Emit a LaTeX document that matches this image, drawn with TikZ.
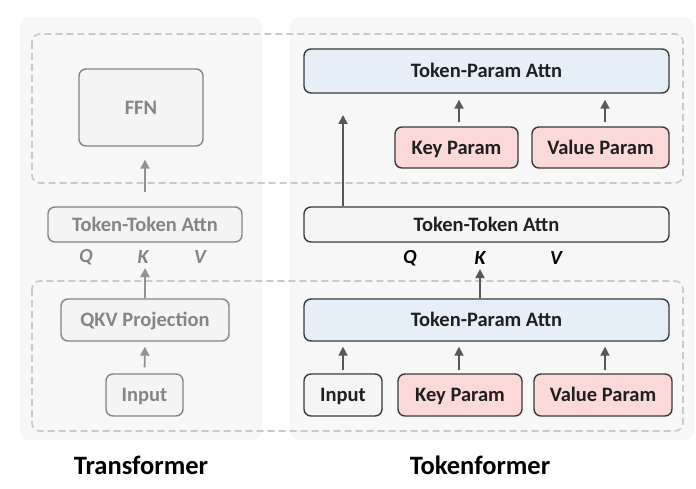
\documentclass[tikz,border=0pt]{standalone}
\usepackage{fontspec}
\setmainfont{Carlito}
\usetikzlibrary{arrows.meta}

\definecolor{panelgray}{HTML}{F7F7F7}
\definecolor{dashgray}{HTML}{C9C9C9}
\definecolor{fadegray}{HTML}{858585}
\definecolor{fadefill}{HTML}{F4F4F4}
\definecolor{darkline}{HTML}{3A3A3A}
\definecolor{paramblue}{HTML}{E6EFF8}
\definecolor{parampink}{HTML}{FAD9D8}
\definecolor{plainfill}{HTML}{F5F5F5}

\tikzstyle{panel} = [fill=panelgray,draw=none,rounded corners=10pt]
\tikzstyle{dashbox} = [draw=dashgray,line width=1.6pt,dash pattern=on 7pt off 4pt,rounded corners=8pt]
\tikzstyle{fadenode} = [draw=fadegray,fill=fadefill,line width=1.4pt,rounded corners=7pt,
  text=fadegray,font=\fontsize{20.5}{24}\selectfont\bfseries,inner sep=0pt,
  text height=15pt,text depth=1.5pt]
\tikzstyle{darknode} = [draw=darkline,fill=plainfill,line width=1.4pt,rounded corners=7pt,
  text=black!88,font=\fontsize{20.5}{24}\selectfont\bfseries,inner sep=0pt,
  text height=15pt,text depth=1.5pt]
\tikzstyle{qkvlabel} = [font=\fontsize{20}{24}\selectfont\bfseries\itshape]
\tikzstyle{fadearrow} = [draw=fadegray!90,line width=1.8pt,-{Triangle[length=9pt,width=9pt]}]
\tikzstyle{darkarrow} = [draw=darkline!85,line width=1.8pt,-{Triangle[length=9pt,width=9pt]}]
\tikzstyle{title} = [font=\fontsize{26.5}{30}\selectfont\bfseries]

\begin{document}
\begin{tikzpicture}[x=1pt,y=-1pt]
  \useasboundingbox (0,0) rectangle (696,489);
  \fill[white] (0,0) rectangle (696,489);

  % panels and layer frames
  \fill[panel] (20,17) rectangle (262,440);
  \fill[panel] (290,17) rectangle (694,440);
  \draw[dashbox] (32,34) rectangle (683,183);
  \draw[dashbox] (32,281) rectangle (683,431);

  % Transformer
  \node[fadenode,minimum width=124pt,minimum height=77pt] (ffn) at (141,107.5) {FFN};
  \node[fadenode,minimum width=194pt,minimum height=35pt] (ttaL) at (145,224.5) {Token-Token Attn};
  \node[qkvlabel,text=fadegray] (qL) at (86,257) {Q};
  \node[qkvlabel,text=fadegray] (kL) at (143,257) {K};
  \node[qkvlabel,text=fadegray] (vL) at (200,257) {V};
  \node[fadenode,minimum width=168pt,minimum height=42pt] (qkv) at (145,320) {QKV Projection};
  \node[fadenode,minimum width=77pt,minimum height=42pt] (inL) at (144.5,395) {Input};

  \draw[fadearrow,shorten <=6pt,shorten >=5pt] (inL.north) -- (qkv.south);
  \draw[fadearrow,shorten >=1pt] (qkv.north) -- (qkv.north |- kL.south);
  \draw[fadearrow,shorten <=14pt,shorten >=13pt] (ttaL.north) -- (ffn.south -| ttaL.north);

  % Tokenformer
  \node[darknode,fill=paramblue,minimum width=365pt,minimum height=44pt] (tpaTop) at (486.5,71) {Token-Param Attn};
  \node[darknode,fill=parampink,minimum width=123pt,minimum height=41pt] (keyTop) at (456.5,147.5) {Key Param};
  \node[darknode,fill=parampink,minimum width=137pt,minimum height=41pt] (valTop) at (600.5,147.5) {Value Param};
  \node[darknode,minimum width=365pt,minimum height=35pt] (ttaR) at (486.5,224.5) {Token-Token Attn};
  \node[qkvlabel] (qR) at (410,258) {Q};
  \node[qkvlabel] (kR) at (480,258) {K};
  \node[qkvlabel] (vR) at (556,258) {V};
  \node[darknode,fill=paramblue,minimum width=365pt,minimum height=42pt] (tpaBot) at (486.5,320) {Token-Param Attn};
  \node[darknode,minimum width=78pt,minimum height=42pt] (inR) at (343,395) {Input};
  \node[darknode,fill=parampink,minimum width=124pt,minimum height=42pt] (keyBot) at (460,395) {Key Param};
  \node[darknode,fill=parampink,minimum width=138pt,minimum height=42pt] (valBot) at (603,395) {Value Param};
  \coordinate (res) at (343,115);

  \draw[darkarrow,shorten <=3pt,shorten >=5pt] (inR.north) -- (inR.north |- tpaBot.south);
  \draw[darkarrow,shorten <=3pt,shorten >=5pt] (keyBot.north -| 459,0) -- (tpaBot.south -| 459,0);
  \draw[darkarrow,shorten <=3pt,shorten >=5pt] (valBot.north -| 605,0) -- (tpaBot.south -| 605,0);
  \draw[darkarrow,shorten >=1pt] (tpaBot.north -| kR) -- (kR.south);
  \draw[darkarrow] (ttaR.north -| res) -- (res);
  \draw[darkarrow,shorten <=4pt,shorten >=6pt] (keyTop.north -| 459,0) -- (tpaTop.south -| 459,0);
  \draw[darkarrow,shorten <=4pt,shorten >=6pt] (valTop.north -| 605,0) -- (tpaTop.south -| 605,0);

  % titles
  \node[title] (tfTitle) at (141,465) {Transformer};
  \node[title] (tkTitle) at (480,465) {Tokenformer};
\end{tikzpicture}
\end{document}
